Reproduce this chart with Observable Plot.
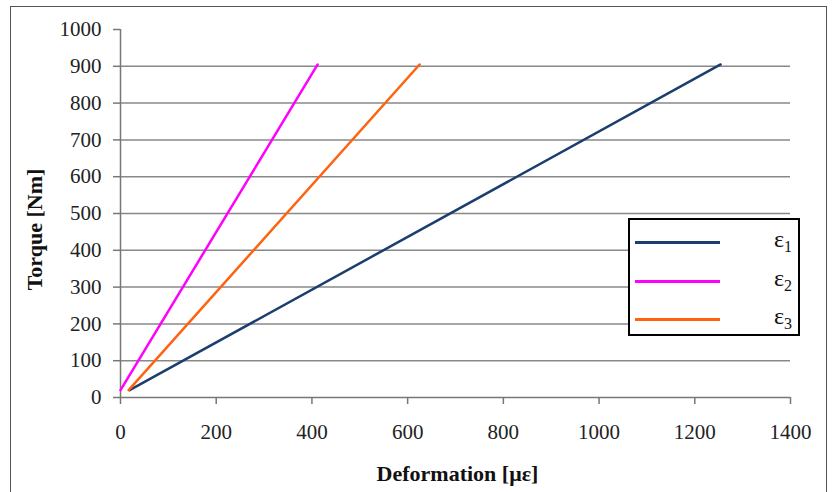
<!DOCTYPE html>
<html>
<head>
<meta charset="utf-8">
<script src="https://cdn.jsdelivr.net/npm/d3@7"></script>
<script src="https://cdn.jsdelivr.net/npm/@observablehq/plot@0.6"></script>
<style>
  html, body { margin: 0; padding: 0; background: #fff; }
  #wrap { position: relative; width: 835px; height: 492px; overflow: hidden; font-family: "Liberation Serif", "Times New Roman", serif; }
  #chart svg, #chart svg text { font-family: "Liberation Serif", "Times New Roman", serif; }
  #border { position: absolute; left: 10px; top: 6px; width: 817px; height: 500px; border: 1.5px solid #555; box-sizing: border-box; pointer-events: none; }
  #legend { position: absolute; left: 628px; top: 218px; width: 172px; height: 118px; border: 2.5px solid #000; box-sizing: border-box; background: #fff; }
  .row { position: absolute; left: 0; width: 100%; height: 20px; }
  .sw { position: absolute; left: 5px; width: 85px; height: 3px; top: 9px; }
  .lab { position: absolute; left: 144px; top: -4px; font-family: "Liberation Serif", "Times New Roman", serif; font-size: 24px; line-height: 23px; color: #111; }
  .lab sub { font-size: 16px; vertical-align: -5px; line-height: 0; }
</style>
</head>
<body>
<div id="wrap">
  <div id="chart"></div>
  <div id="border"></div>
  <div id="legend"></div>
</div>
<script>
// Series (Deformation [µε], Torque [Nm])
const seriesNames = ["ε1", "ε2", "ε3"];
const seriesColors = ["#1b3e6f", "#ff00ff", "#ff6310"];
const eps1Deformation = [19, 1254];
const eps1Torque = [20, 905];
const eps2Deformation = [0, 412];
const eps2Torque = [20, 905];
const eps3Deformation = [17, 625];
const eps3Torque = [20, 905];
const xTicks = [0, 200, 400, 600, 800, 1000, 1200, 1400];
const yTicks = [0, 100, 200, 300, 400, 500, 600, 700, 800, 900, 1000];
const gridValues = [100, 200, 300, 400, 500, 600, 700, 800, 900];

const defs = [eps1Deformation, eps2Deformation, eps3Deformation];
const torqs = [eps1Torque, eps2Torque, eps3Torque];
const data = [];
seriesNames.forEach((s, i) => defs[i].forEach((x, j) => data.push({series: s, x, y: torqs[i][j]})));

const serif = "Liberation Serif, Times New Roman, serif";
const chart = Plot.plot({
  width: 835,
  height: 492,
  marginLeft: 120,
  marginRight: 45,
  marginTop: 29,
  marginBottom: 95,
  style: {fontFamily: serif, fontSize: "20px", color: "#111", background: "transparent"},
  x: {domain: [0, 1400], ticks: xTicks},
  y: {domain: [0, 1000], ticks: yTicks},
  color: {domain: seriesNames, range: seriesColors},
  marks: [
    Plot.ruleY(gridValues, {x1: 0, x2: 1400, stroke: "#888", strokeWidth: 1.5}),
    Plot.axisY({ticks: yTicks, tickFormat: d => String(d), tickSize: 7, tickPadding: 12, label: null, stroke: "#777", strokeWidth: 1.5, fontSize: 21, fontFamily: serif, fill: "#222"}),
    Plot.axisX({ticks: xTicks, tickFormat: d => String(d), tickSize: 7, tickPadding: 20, label: null, stroke: "#777", strokeWidth: 1.5, fontSize: 21, fontFamily: serif, fill: "#222"}),
    Plot.ruleX([0], {y1: 0, y2: 1000, stroke: "#777", strokeWidth: 1.5}),
    Plot.ruleY([0], {x1: 0, x2: 1400, stroke: "#777", strokeWidth: 1.5}),
    Plot.line(data, {x: "x", y: "y", z: "series", stroke: "series", strokeWidth: 2.5}),
    Plot.text(["Torque [Nm]"], {frameAnchor: "left", textAnchor: "middle", text: d => d, rotate: -90, dx: -86, dy: 16, fontWeight: "bold", fontSize: 22, fontFamily: serif, fill: "#111"}),
    Plot.text(["Deformation [με]"], {frameAnchor: "bottom", textAnchor: "middle", text: d => d, dy: 83, dx: 2, fontWeight: "bold", fontSize: 22, fontFamily: serif, fill: "#111"})
  ]
});
document.getElementById("chart").appendChild(chart);

// Legend
const legend = document.getElementById("legend");
const tops = [12, 51, 89];
seriesNames.forEach((s, i) => {
  const row = document.createElement("div");
  row.className = "row";
  row.style.top = tops[i] + "px";
  row.innerHTML = `<div class="sw" style="background:${seriesColors[i]}"></div><div class="lab">ε<sub>${s.slice(1)}</sub></div>`;
  legend.appendChild(row);
});
</script>
</body>
</html>
